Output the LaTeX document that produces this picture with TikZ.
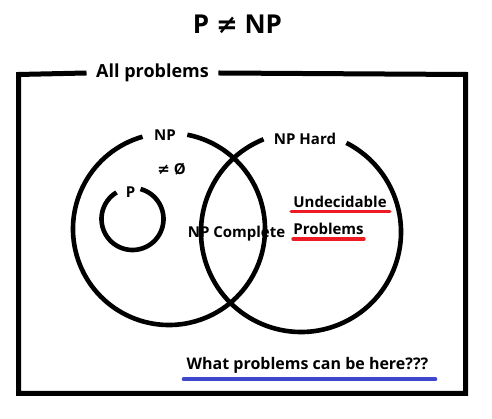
\documentclass[tikz,border=0pt]{standalone}
\usepackage{fontspec}
\setmainfont{Open Sans}
\newfontfamily\symb{DejaVu Sans}
\usepackage{xcolor}
\usepackage{tikz}
\definecolor{ulred}{HTML}{ED1C24}
\definecolor{ulblue}{HTML}{3F48CC}

\begin{document}
\begin{tikzpicture}[x=1pt,y=1pt,
  ring/.style={line width=4.6pt},
  lbl/.style={font=\bfseries\fontsize{15}{17}\selectfont,inner sep=0pt},
  uline/.style={line width=3.6pt,line cap=round}]
\useasboundingbox (0,0) rectangle (492,419);
% title and outer frame
\node[font=\bfseries\fontsize{26}{29}\selectfont] (title) at (237.5,395) {P {\symb\bfseries ≠} NP};
\node[font=\bfseries\fontsize{18}{20}\selectfont,inner xsep=9.5pt,inner ysep=0pt] (allp) at (152.5,346) {All problems};
\draw[ring,line width=5pt] (allp.east) -- (465.5,344.5) -- (465.5,25.5) -- (18.5,25.5) -- (18.5,344.5) -- (allp.west);
% the three sets
\coordinate (npc) at (169,190);
\coordinate (pc) at (132.5,200);
\coordinate (nphc) at (301,187);
\draw[ring] (npc) ++(106:96) arc(106:439:96);
\draw[ring] (pc) ++(121:31) arc(121:435:31);
\draw[ring] (nphc) ++(112:100) arc(112:423:100);
\node[lbl] (np) at (165,283.5) {NP};
\node[lbl] (p) at (130.5,227) {P};
\node[lbl] (nph) at (305,280.5) {NP Hard};
\node[lbl] (nonempty) at (171.5,250) {{\symb\bfseries ≠} Ø};
\node[lbl] (npcomp) at (236.5,185) {NP Complete};
\node[lbl] (undec) at (340,217.5) {Undecidable};
\node[lbl] (probs) at (328.5,190) {Problems};
\node[lbl,font=\bfseries\fontsize{16}{18}\selectfont] (what) at (307.5,54) {What problems can be here???};
% underlines
\draw[uline,ulred] ([xshift=-2pt,yshift=-4pt]undec.south west) -- ([xshift=3pt,yshift=-4pt]undec.south east);
\draw[uline,ulred] ([yshift=-4pt]probs.south west) -- ([yshift=-4pt]probs.south east);
\draw[uline,ulblue] ([xshift=-3pt,yshift=-6pt]what.south west) -- ([xshift=7pt,yshift=-6pt]what.south east);
\end{tikzpicture}
\end{document}
